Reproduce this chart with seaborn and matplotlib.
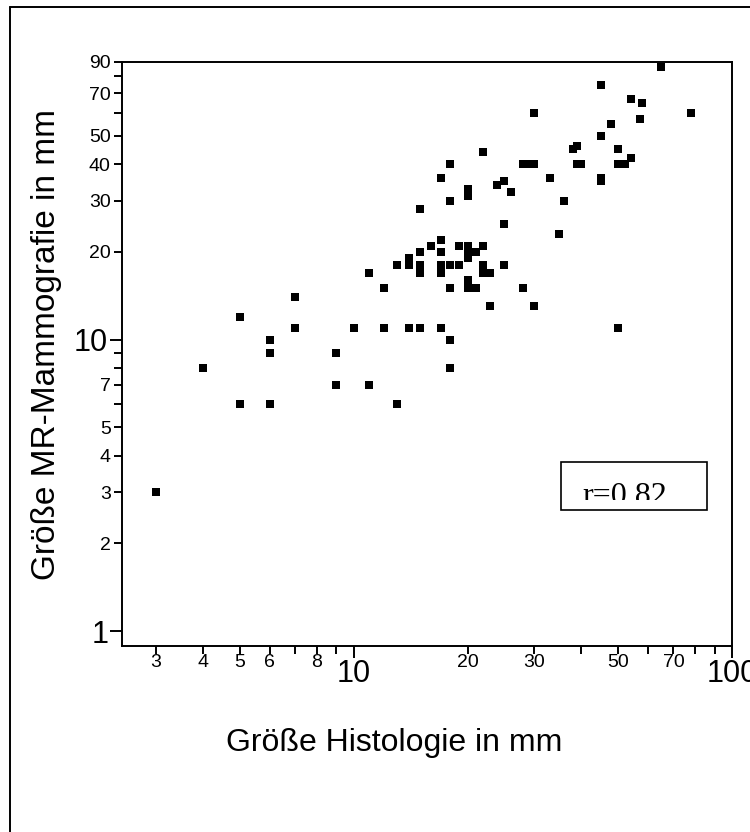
import matplotlib
matplotlib.use("Agg")
import matplotlib.pyplot as plt
import matplotlib.transforms as mtransforms
from matplotlib.lines import Line2D
from matplotlib.patches import Rectangle
import seaborn as sns
import pandas as pd

# Daten: Größe Histologie (x) gegen Größe MR-Mammografie (y), in mm
histologie = [3, 4, 5, 5, 6, 6, 6, 7, 7, 9, 9, 10, 11, 11, 12, 12, 13, 13,
              14, 14, 14, 15, 15, 15, 15, 15, 16, 17, 17, 17, 17, 17, 17,
              18, 18, 18, 18, 18, 18, 19, 19, 20, 20, 20, 20, 20, 20, 20,
              21, 21, 22, 22, 22, 22, 23, 23, 24, 25, 25, 25, 26, 28, 29,
              30, 28, 30, 30, 33, 35, 36, 38, 39, 39, 40, 45, 45, 45, 45,
              48, 50, 50, 50, 52, 54, 54, 57, 58, 65, 78]
mr_mammo = [3, 8, 12, 6, 10, 9, 6, 14, 11, 9, 7, 11, 17, 7, 15, 11, 18, 6,
            19, 18, 11, 28, 20, 18, 17, 11, 21, 36, 22, 20, 18, 17, 11,
            40, 30, 18, 15, 10, 8, 21, 18, 33, 31, 21, 20, 19, 16, 15,
            20, 15, 44, 21, 18, 17, 17, 13, 34, 35, 25, 18, 32, 40, 40,
            40, 15, 60, 13, 36, 23, 30, 45, 46, 40, 40, 75, 50, 36, 35,
            55, 45, 40, 11, 40, 67, 42, 57, 65, 86, 60]

x_ticks = [3, 4, 5, 6, 7, 8, 9, 20, 30, 40, 50, 60, 70, 80, 90]
x_labels = ["3", "4", "5", "6", "", "8", "", "20", "30", "", "50", "", "70", "", ""]
x_dekaden = [10, 100]
y_ticks = [2, 3, 4, 5, 6, 7, 8, 9, 20, 30, 40, 50, 60, 70, 80, 90]
y_labels = ["2", "3", "4", "5", "", "7", "", "", "20", "30", "40", "50", "", "70", "", "90"]
y_dekaden = [1, 10]

df = pd.DataFrame({"histologie": histologie, "mr": mr_mammo})

sns.set_style("white")
plt.rcParams["font.family"] = ["Liberation Sans", "DejaVu Sans"]
plt.rcParams["text.color"] = "black"
plt.rcParams["axes.labelcolor"] = "black"

W, H = 750, 832
fig = plt.figure(figsize=(W / 100, H / 100), dpi=100)
ax = fig.add_axes([121.5 / W, 1 - 646 / H, (732 - 121.5) / W, (646 - 61.5) / H])

sns.scatterplot(data=df, x="histologie", y="mr", marker="s", s=30,
                color="black", linewidth=0, ax=ax, legend=False)

ax.set_xscale("log")
ax.set_yscale("log")
ax.set_xlim(2.435, 100)
ax.set_ylim(0.89, 89.5)

ax.set_xticks(x_ticks, x_labels)
ax.set_yticks(y_ticks, y_labels)
ax.set_xticks(x_dekaden, ["10", "100"], minor=True)
ax.set_yticks(y_dekaden, ["1", "10"], minor=True)

ax.tick_params(which="major", direction="out", length=5.8, width=1.4,
               labelsize=14, color="black", labelcolor="black")
ax.tick_params(axis="x", which="major", pad=0)
ax.tick_params(axis="y", which="major", pad=2)
ax.tick_params(which="minor", direction="out", length=8.6, width=1.4,
               labelsize=22, color="black", labelcolor="black", pad=1)
ax.tick_params(axis="both", which="both", bottom=True, left=True)

for sp in ax.spines.values():
    sp.set_color("black")
    sp.set_linewidth(1.4)

ax.set_xlabel("Größe Histologie in mm", fontsize=23)
ax.set_ylabel("Größe MR-Mammografie in mm", fontsize=24)
ax.xaxis.set_label_coords(0.446, -0.14)
ax.yaxis.set_label_coords(-0.097, 0.515)

# Kasten mit Korrelationskoeffizient
fig.add_artist(Rectangle((561 / W, 1 - 510 / H), (707 - 561) / W, (510 - 462) / H,
                         transform=fig.transFigure, fill=False,
                         edgecolor="black", linewidth=1.2))
txt = fig.text(582 / W, 1 - 504 / H, "r=0.82", fontsize=23,
               family="Liberation Serif", ha="left", va="baseline")
clip = mtransforms.TransformedBbox(
    mtransforms.Bbox([[561 / W, 1 - 500 / H], [707 / W, 1 - 462 / H]]),
    fig.transFigure)
txt.set_clip_box(clip)
txt.set_clip_on(True)

# Rahmen oben und links
fig.add_artist(Line2D([9.6 / W, 1], [1 - 7 / H, 1 - 7 / H],
                      transform=fig.transFigure, color="black", linewidth=1.4))
fig.add_artist(Line2D([9.6 / W, 9.6 / W], [0, 1 - 7 / H],
                      transform=fig.transFigure, color="black", linewidth=1.4))

fig.savefig("out.png", dpi=100, facecolor="white")
